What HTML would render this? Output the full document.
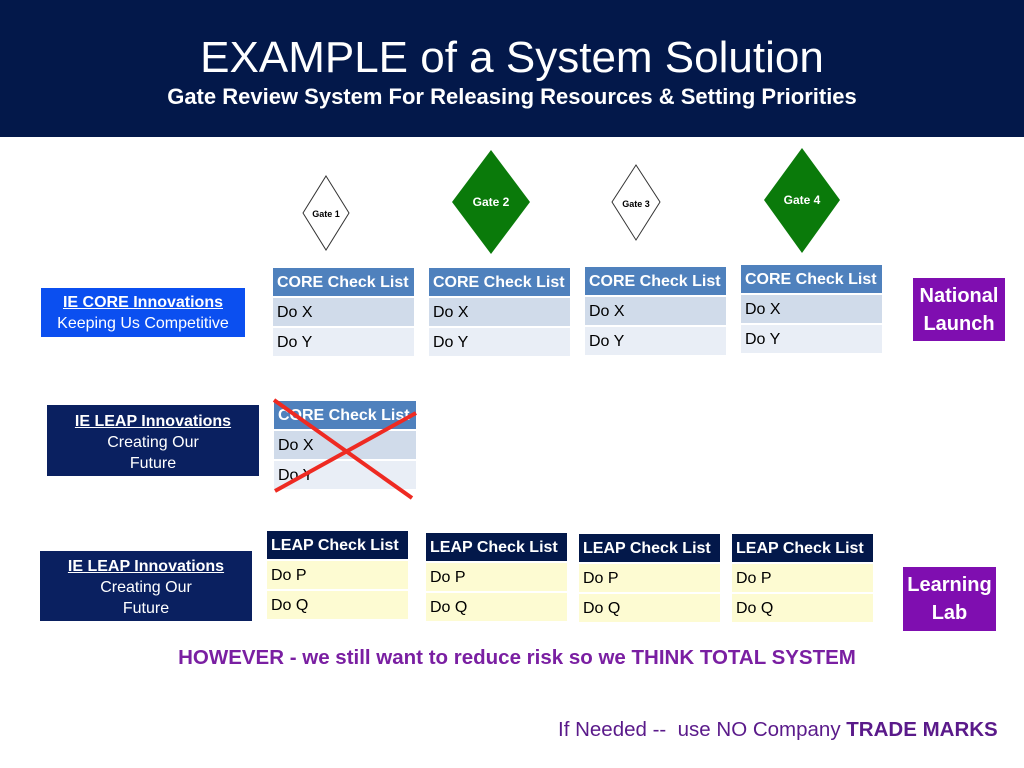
<!DOCTYPE html>
<html><head><meta charset="utf-8"><style>
body{margin:0;width:1024px;height:768px;background:#fff;position:relative;overflow:hidden;font-family:"Liberation Sans",sans-serif}
.a{position:absolute}
.hdr{left:0;top:0;width:1024px;height:137px;background:#03184a}
.t1{left:0;width:1024px;text-align:center;top:33px;color:#fff;font-size:44px}
.t2{left:0;width:1024px;text-align:center;top:84px;color:#fff;font-size:22px;font-weight:bold}
.tb{position:absolute;width:141px;font-size:16px}
.tb div{height:28px;line-height:29px;padding-left:4px;box-sizing:border-box;margin-bottom:2px}
.core .h{background:#4f81bd;color:#fff;font-weight:bold}
.core .r1{background:#d0dbea}.core .r2{background:#e9eef6}
.leap .h{background:#03184a;color:#fff;font-weight:bold}
.leap .r1{background:#fdfbd2}.leap .r2{background:#fdfbd2}
.lb{position:absolute;color:#fff;text-align:center;font-size:16px;line-height:21px;box-sizing:border-box}
.lb u{font-weight:bold;font-size:16px}
.pp{position:absolute;background:#7f0eb0;color:#fff;font-weight:bold;font-size:20px;text-align:center;line-height:28px;box-sizing:border-box;padding-top:4px}
</style></head><body>
<div class="a hdr"></div>
<div class="a t1">EXAMPLE of a System Solution</div>
<div class="a t2">Gate Review System For Releasing Resources &amp; Setting Priorities</div>

<svg class="a" style="left:0;top:0" width="1024" height="768">
<polygon points="326,176 349,213 326,250 303,213" fill="#fff" stroke="#333" stroke-width="1"/>
<text x="326" y="217" font-size="9" font-weight="bold" text-anchor="middle" font-family="Liberation Sans">Gate 1</text>
<polygon points="491,150 530,202 491,254 452,202" fill="#0a7a0a"/>
<text x="491" y="206" font-size="12" font-weight="bold" fill="#fff" text-anchor="middle" font-family="Liberation Sans">Gate 2</text>
<polygon points="636,165 660,202 636,240 612,202" fill="#fff" stroke="#333" stroke-width="1"/>
<text x="636" y="207" font-size="9" font-weight="bold" text-anchor="middle" font-family="Liberation Sans">Gate 3</text>
<polygon points="802,148 840,200 802,253 764,200" fill="#0a7a0a"/>
<text x="802" y="204" font-size="12" font-weight="bold" fill="#fff" text-anchor="middle" font-family="Liberation Sans">Gate 4</text>
</svg>

<div class="lb" style="left:41px;top:288px;width:204px;height:49px;background:#0b4ff0;padding-top:4px"><u>IE CORE Innovations</u><br>Keeping Us Competitive</div>
<div class="lb" style="left:47px;top:405px;width:212px;height:71px;background:#0a2060;padding-top:6px"><u>IE LEAP Innovations</u><br>Creating Our<br>Future</div>
<div class="lb" style="left:40px;top:551px;width:212px;height:70px;background:#0a2060;padding-top:5px"><u>IE LEAP Innovations</u><br>Creating Our<br>Future</div>

<div class="tb core" style="left:273px;top:268px"><div class="h">CORE Check List</div><div class="r1">Do X</div><div class="r2">Do Y</div></div>
<div class="tb core" style="left:429px;top:268px"><div class="h">CORE Check List</div><div class="r1">Do X</div><div class="r2">Do Y</div></div>
<div class="tb core" style="left:585px;top:267px"><div class="h">CORE Check List</div><div class="r1">Do X</div><div class="r2">Do Y</div></div>
<div class="tb core" style="left:741px;top:265px"><div class="h">CORE Check List</div><div class="r1">Do X</div><div class="r2">Do Y</div></div>
<div class="tb core" style="left:274px;top:401px;width:142px"><div class="h">CORE Check List</div><div class="r1">Do X</div><div class="r2">Do Y</div></div>
<svg class="a" style="left:0;top:0" width="1024" height="768">
<line x1="274" y1="400" x2="412" y2="498" stroke="#ee2a22" stroke-width="4"/>
<line x1="275" y1="491" x2="416" y2="413" stroke="#ee2a22" stroke-width="4"/>
</svg>

<div class="tb leap" style="left:267px;top:531px"><div class="h">LEAP Check List</div><div class="r1">Do P</div><div class="r2">Do Q</div></div>
<div class="tb leap" style="left:426px;top:533px"><div class="h">LEAP Check List</div><div class="r1">Do P</div><div class="r2">Do Q</div></div>
<div class="tb leap" style="left:579px;top:534px"><div class="h">LEAP Check List</div><div class="r1">Do P</div><div class="r2">Do Q</div></div>
<div class="tb leap" style="left:732px;top:534px"><div class="h">LEAP Check List</div><div class="r1">Do P</div><div class="r2">Do Q</div></div>

<div class="pp" style="left:913px;top:278px;width:92px;height:63px">National<br>Launch</div>
<div class="pp" style="left:903px;top:567px;width:93px;height:64px">Learning<br>Lab</div>

<div class="a" style="left:0;width:1034px;text-align:center;top:646px;color:#7a1fa2;font-weight:bold;font-size:20.5px">HOWEVER - we still want to reduce risk so we THINK TOTAL SYSTEM</div>
<div class="a" style="left:558px;top:718px;color:#5a1a8a;font-size:20.5px;white-space:pre">If Needed --  use NO Company <b style="color:#5a1a8a">TRADE MARKS</b></div>
</body></html>
